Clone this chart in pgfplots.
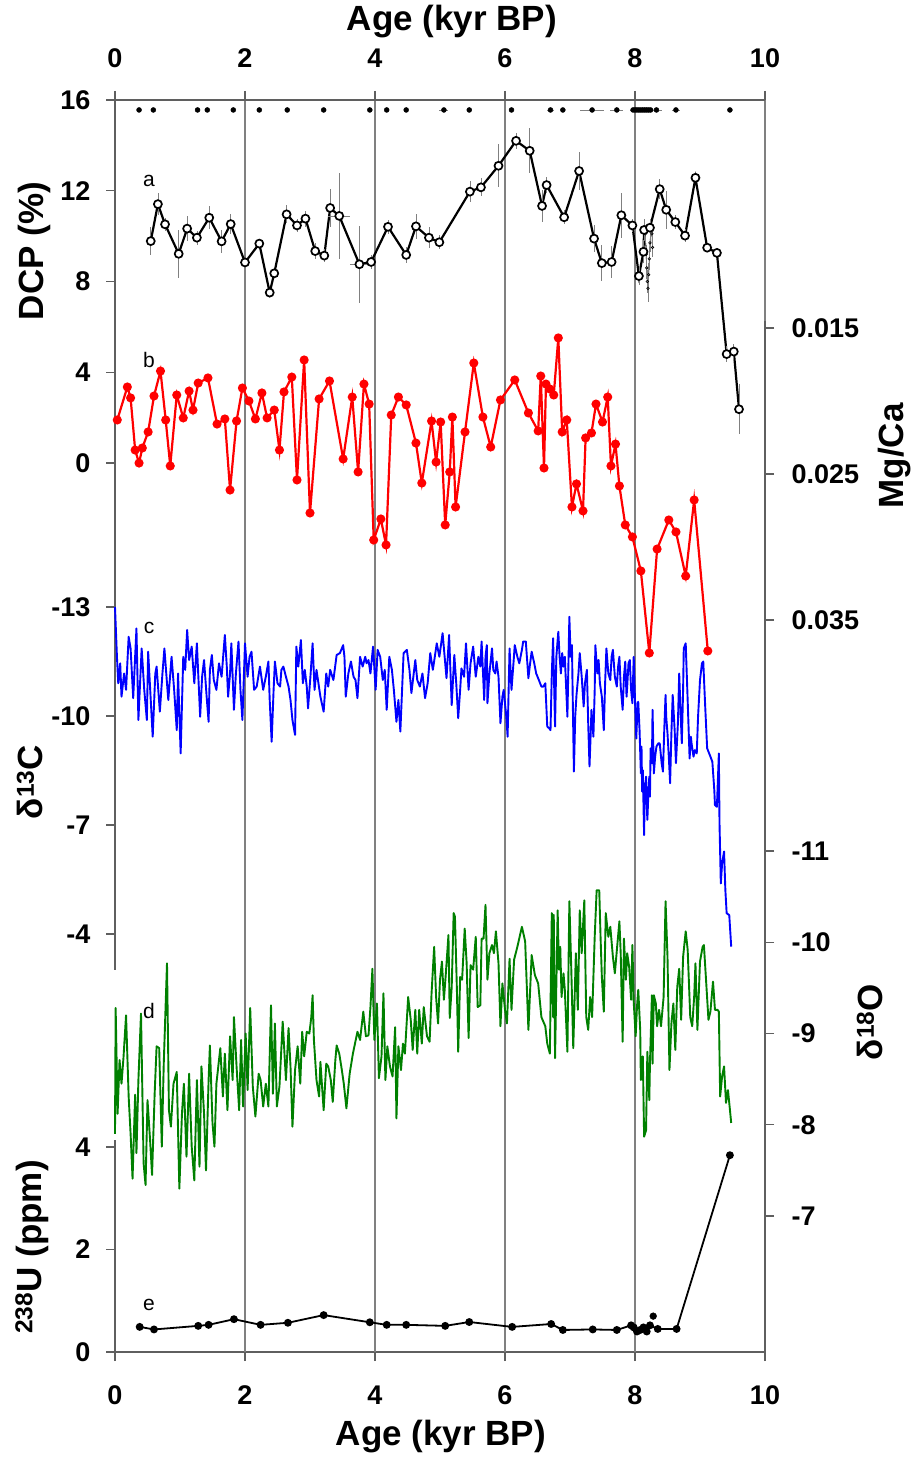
\documentclass[border=0pt]{standalone}
\usepackage{fontspec}
\setmainfont{Liberation Sans}
\usepackage{pgfplots}
\usepackage{pgfplotstable}
\pgfplotsset{compat=1.18}
\definecolor{axgray}{RGB}{95,95,95}
\definecolor{grd}{RGB}{128,128,128}
\definecolor{dgreen}{RGB}{0,128,0}

\pgfplotstableread{
x y ey ex
0.55 9.78 0.6 0
0.66 11.41 0.5 0
0.77 10.52 0.3 0
0.98 9.22 1.05 0
1.11 10.33 0.55 0
1.26 9.93 0.3 0
1.45 10.81 0.5 0
1.64 9.77 0.5 0
1.78 10.53 0.45 0
2.00 8.84 0.2 0
2.22 9.67 0.2 0
2.38 7.51 0.2 0
2.45 8.36 0.2 0
2.64 10.96 0.4 0
2.80 10.47 0.3 0
2.93 10.77 0.35 0
3.08 9.34 0.35 0
3.22 9.14 0.3 0
3.31 11.24 0.85 0
3.45 10.89 1.9 0.17
3.76 8.76 1.7 0.15
3.94 8.86 0.3 0
4.20 10.41 0.3 0
4.48 9.17 0.35 0
4.63 10.43 0.55 0
4.83 9.93 0.45 0
4.99 9.73 0.3 0
5.46 11.96 0.45 0
5.63 12.15 0.4 0
5.90 13.10 0.95 0
6.17 14.20 0.35 0
6.38 13.76 1.0 0
6.57 11.33 0.7 0
6.64 12.25 0.35 0
6.91 10.83 0.3 0
7.14 12.87 0.85 0
7.37 9.89 0.6 0
7.49 8.81 0.8 0
7.64 8.86 0.7 0
7.79 10.92 1.0 0
7.96 10.47 0.3 0
8.06 8.24 0.4 0
8.13 9.31 0.5 0
8.14 10.27 0.5 0
8.23 10.37 0.4 0
8.38 12.07 0.45 0
8.48 11.16 0.85 0
8.62 10.62 0.3 0
8.77 10.02 0.3 0
8.93 12.57 0.2 0
9.11 9.49 0.2 0
9.26 9.26 0.2 0
9.41 4.80 0.35 0
9.52 4.91 0.35 0
9.60 2.37 1.1 0
}\dcp

\pgfplotstableread{
x y ey
8.16 10.1 0.4
8.17 9.2 0.4
8.18 8.6 0.5
8.19 8.0 0.5
8.20 7.7 0.6
8.21 8.3 0.5
8.22 9.0 0.5
8.23 9.7 0.4
8.25 10.4 0.4
8.26 10.1 0.4
8.27 9.5 0.4
}\dcpsmall

\pgfplotstableread{
x y ex
0.37 15.56 0.02
0.59 15.56 0.02
1.27 15.56 0.02
1.42 15.56 0.02
1.82 15.56 0.03
2.22 15.56 0.02
2.65 15.56 0.02
3.21 15.56 0.02
3.92 15.56 0.02
4.18 15.56 0.02
4.48 15.56 0.02
5.06 15.56 0.07
5.45 15.56 0.03
6.10 15.56 0.02
6.70 15.56 0.06
6.89 15.56 0.03
7.34 15.56 0.19
7.72 15.56 0.10
7.97 15.56 0.05
8.00 15.56 0.03
8.03 15.56 0.03
8.06 15.56 0.03
8.09 15.56 0.03
8.12 15.56 0.03
8.15 15.56 0.03
8.18 15.56 0.03
8.21 15.56 0.03
8.24 15.56 0.03
8.33 15.56 0.09
8.63 15.56 0.06
9.46 15.56 0.02
}\dates

\pgfplotstableread{
x y
0.035 0.02130
0.19 0.01904
0.24 0.01979
0.31 0.02336
0.37 0.02425
0.42 0.02322
0.51 0.02212
0.60 0.01966
0.70 0.01795
0.78 0.02130
0.85 0.02445
0.95 0.01959
1.05 0.02116
1.14 0.01932
1.20 0.02062
1.28 0.01877
1.43 0.01842
1.57 0.02158
1.69 0.02123
1.77 0.02610
1.87 0.02137
1.96 0.01911
2.06 0.02000
2.16 0.02123
2.26 0.01945
2.34 0.02116
2.45 0.02062
2.53 0.02336
2.60 0.01938
2.72 0.01836
2.80 0.02541
2.91 0.01719
3.00 0.02767
3.14 0.01986
3.30 0.01863
3.51 0.02397
3.65 0.01973
3.74 0.02486
3.83 0.01884
3.91 0.02021
3.98 0.02952
4.09 0.02808
4.17 0.02986
4.25 0.02096
4.36 0.01973
4.48 0.02027
4.63 0.02288
4.72 0.02562
4.87 0.02137
4.94 0.02418
5.01 0.02144
5.08 0.02849
5.15 0.02486
5.19 0.02110
5.24 0.02726
5.385 0.02212
5.52 0.01740
5.66 0.02110
5.78 0.02315
5.93 0.01993
6.15 0.01856
6.36 0.02082
6.51 0.02205
6.55 0.01829
6.60 0.02459
6.63 0.01884
6.69 0.01918
6.75 0.01959
6.82 0.01568
6.88 0.02212
6.95 0.02130
7.03 0.02726
7.10 0.02568
7.20 0.02753
7.24 0.02253
7.33 0.02219
7.40 0.02021
7.50 0.02144
7.58 0.01973
7.63 0.02445
7.70 0.02295
7.76 0.02582
7.85 0.02849
7.96 0.02931
8.09 0.03164
8.22 0.03726
8.34 0.03014
8.52 0.02815
8.63 0.02897
8.78 0.03199
8.91 0.02678
9.12 0.03712
}\mgca

\pgfplotstableread{
x y
0.00 -13.00
0.03 -11.63
0.05 -10.90
0.08 -11.45
0.10 -10.53
0.14 -11.17
0.17 -10.72
0.21 -12.18
0.24 -11.86
0.28 -10.49
0.33 -12.41
0.36 -9.89
0.41 -11.86
0.45 -10.72
0.49 -9.89
0.51 -11.77
0.55 -10.44
0.58 -9.43
0.62 -11.17
0.64 -11.36
0.69 -10.12
0.73 -11.17
0.76 -11.86
0.80 -10.90
0.82 -10.44
0.87 -11.63
0.91 -10.72
0.95 -9.61
0.97 -11.17
1.01 -8.97
1.05 -11.63
1.08 -11.27
1.11 -12.37
1.14 -11.54
1.18 -11.91
1.22 -10.90
1.26 -12.00
1.28 -11.17
1.31 -9.98
1.34 -11.08
1.37 -11.54
1.41 -10.53
1.44 -9.84
1.46 -11.27
1.49 -11.68
1.52 -10.99
1.56 -10.72
1.60 -11.45
1.64 -11.08
1.69 -12.23
1.72 -11.36
1.74 -10.53
1.77 -11.17
1.79 -12.00
1.83 -10.17
1.86 -11.17
1.90 -12.05
1.93 -10.72
1.96 -9.89
2.00 -12.00
2.04 -11.08
2.07 -11.63
2.10 -11.77
2.14 -10.72
2.18 -10.81
2.23 -11.36
2.28 -10.72
2.32 -11.08
2.36 -11.50
2.38 -10.44
2.41 -9.29
2.44 -10.72
2.46 -11.50
2.50 -10.90
2.54 -10.81
2.56 -11.27
2.59 -11.36
2.63 -11.08
2.67 -10.81
2.70 -10.44
2.73 -9.89
2.77 -9.48
2.79 -11.91
2.82 -11.36
2.86 -12.09
2.89 -10.90
2.92 -11.27
2.95 -10.81
2.97 -10.21
3.01 -11.17
3.04 -12.00
3.07 -10.72
3.10 -11.27
3.13 -10.90
3.16 -10.53
3.21 -10.12
3.25 -11.17
3.28 -10.81
3.31 -11.27
3.36 -10.99
3.41 -11.68
3.46 -11.73
3.51 -11.95
3.53 -11.63
3.55 -10.53
3.59 -11.17
3.63 -11.50
3.67 -11.08
3.70 -10.99
3.73 -10.49
3.77 -11.63
3.81 -11.36
3.85 -11.63
3.87 -11.45
3.90 -11.54
3.93 -11.17
3.97 -11.91
4.01 -10.72
4.04 -11.82
4.08 -11.63
4.12 -10.99
4.15 -11.27
4.18 -10.17
4.22 -11.63
4.26 -11.27
4.29 -10.72
4.33 -9.84
4.36 -10.44
4.39 -9.57
4.44 -11.73
4.49 -11.82
4.53 -11.27
4.56 -10.63
4.59 -11.08
4.62 -11.54
4.65 -10.99
4.69 -10.81
4.73 -11.17
4.77 -10.49
4.81 -10.90
4.85 -11.73
4.89 -11.27
4.92 -11.63
4.95 -12.00
4.99 -11.63
5.04 -12.28
5.10 -11.04
5.14 -12.23
5.18 -10.30
5.22 -11.68
5.25 -10.90
5.28 -9.94
5.31 -10.72
5.33 -11.31
5.37 -11.08
5.40 -12.00
5.44 -10.72
5.47 -11.45
5.51 -11.91
5.55 -11.08
5.59 -11.63
5.62 -11.36
5.64 -12.05
5.68 -10.44
5.70 -11.63
5.72 -11.95
5.73 -10.35
5.76 -11.17
5.80 -11.86
5.82 -11.27
5.85 -11.17
5.87 -11.50
5.90 -11.08
5.93 -9.80
5.96 -10.53
5.98 -10.72
6.02 -9.98
6.04 -9.43
6.07 -11.86
6.09 -11.08
6.10 -10.72
6.13 -11.45
6.15 -11.95
6.19 -11.63
6.22 -11.45
6.26 -11.82
6.28 -12.05
6.32 -12.05
6.36 -11.04
6.38 -11.36
6.41 -11.77
6.45 -11.45
6.48 -11.17
6.51 -11.04
6.56 -10.81
6.59 -10.81
6.62 -10.90
6.65 -9.71
6.68 -9.66
6.70 -9.61
6.72 -11.17
6.74 -12.14
6.77 -9.71
6.79 -11.63
6.82 -12.32
6.84 -11.63
6.86 -11.17
6.88 -11.73
6.90 -11.36
6.92 -11.63
6.96 -9.98
6.99 -12.73
7.01 -11.63
7.03 -11.95
7.04 -10.72
7.06 -8.47
7.08 -9.98
7.10 -10.58
7.13 -11.17
7.15 -11.73
7.18 -11.08
7.21 -10.26
7.23 -10.90
7.26 -11.27
7.28 -9.80
7.30 -8.61
7.32 -9.61
7.33 -10.17
7.36 -9.43
7.38 -10.72
7.39 -11.95
7.42 -11.17
7.44 -11.54
7.46 -10.90
7.49 -10.53
7.52 -9.61
7.54 -10.90
7.56 -11.86
7.59 -11.17
7.62 -10.99
7.64 -11.63
7.66 -11.82
7.69 -11.08
7.72 -10.81
7.74 -11.36
7.76 -11.63
7.78 -10.81
7.81 -10.17
7.83 -11.08
7.85 -11.50
7.87 -10.53
7.88 -10.81
7.90 -11.45
7.92 -11.54
7.94 -10.72
7.96 -10.35
7.98 -11.63
8.00 -10.44
8.02 -9.38
8.04 -10.35
8.05 -10.39
8.07 -9.61
8.09 -8.42
8.10 -9.16
8.11 -7.92
8.12 -8.51
8.14 -6.72
8.15 -7.96
8.17 -8.33
8.18 -7.60
8.19 -7.14
8.21 -8.05
8.22 -8.33
8.23 -7.78
8.24 -9.11
8.26 -8.70
8.27 -10.17
8.29 -8.42
8.31 -8.88
8.33 -9.16
8.36 -9.25
8.38 -9.25
8.41 -8.70
8.43 -8.47
8.45 -9.61
8.47 -10.58
8.48 -9.98
8.50 -9.52
8.52 -8.88
8.54 -8.15
8.56 -9.52
8.58 -10.58
8.61 -9.61
8.63 -8.70
8.66 -9.80
8.68 -11.17
8.70 -10.17
8.72 -9.25
8.74 -10.72
8.75 -11.86
8.78 -12.00
8.81 -10.44
8.84 -8.83
8.86 -9.43
8.87 -9.25
8.90 -8.88
8.92 -9.06
8.95 -8.97
8.97 -9.98
9.00 -10.99
9.03 -11.45
9.05 -11.50
9.08 -10.26
9.11 -9.11
9.15 -8.93
9.19 -8.74
9.22 -7.96
9.23 -7.55
9.26 -7.50
9.29 -8.97
9.30 -7.05
9.32 -5.39
9.34 -5.94
9.37 -6.27
9.39 -5.21
9.41 -4.57
9.45 -4.52
9.48 -3.65
}\dthirteen

\pgfplotstableread{
x y
0.00 -7.90
0.01 -9.28
0.04 -8.12
0.07 -8.71
0.10 -8.45
0.13 -8.73
0.17 -9.20
0.21 -8.31
0.24 -7.90
0.27 -7.41
0.31 -8.33
0.33 -7.69
0.36 -8.49
0.40 -9.22
0.44 -7.58
0.47 -7.34
0.50 -8.27
0.54 -7.83
0.57 -7.45
0.61 -8.34
0.64 -8.86
0.68 -8.84
0.72 -7.76
0.75 -8.67
0.80 -9.77
0.83 -8.16
0.86 -7.98
0.90 -8.45
0.95 -8.58
0.99 -7.30
1.03 -8.12
1.06 -8.45
1.10 -7.65
1.14 -8.56
1.18 -7.76
1.22 -7.39
1.26 -8.49
1.30 -7.54
1.33 -8.64
1.37 -8.12
1.40 -7.50
1.44 -8.49
1.46 -8.87
1.50 -8.02
1.53 -7.76
1.56 -8.45
1.62 -8.84
1.66 -8.31
1.69 -8.78
1.73 -8.16
1.77 -8.97
1.81 -8.49
1.83 -9.18
1.87 -8.64
1.91 -8.16
1.94 -8.93
1.97 -8.20
2.01 -9.00
2.04 -8.38
2.08 -9.28
2.12 -8.42
2.16 -8.09
2.21 -8.56
2.24 -8.49
2.28 -8.20
2.32 -8.45
2.36 -8.20
2.40 -9.31
2.43 -8.34
2.46 -9.11
2.49 -8.20
2.53 -8.42
2.58 -9.13
2.63 -8.49
2.67 -9.06
2.70 -8.64
2.73 -7.98
2.77 -8.60
2.81 -8.86
2.85 -8.45
2.88 -9.02
2.91 -8.75
2.95 -9.02
2.99 -9.00
3.02 -9.18
3.04 -9.42
3.06 -8.93
3.10 -8.49
3.14 -8.31
3.16 -8.69
3.21 -8.16
3.25 -8.67
3.28 -8.64
3.32 -8.49
3.35 -8.25
3.39 -8.71
3.41 -8.87
3.45 -8.78
3.49 -8.60
3.52 -8.45
3.56 -8.18
3.61 -8.56
3.66 -8.78
3.73 -9.02
3.77 -8.93
3.82 -9.24
3.86 -8.97
3.90 -8.98
3.93 -9.29
3.96 -9.71
3.99 -8.93
4.03 -9.33
4.06 -8.51
4.10 -8.75
4.13 -9.44
4.16 -8.49
4.19 -8.86
4.23 -8.64
4.27 -8.53
4.31 -9.07
4.33 -8.07
4.36 -8.86
4.40 -8.60
4.43 -8.89
4.46 -8.78
4.51 -9.40
4.55 -9.15
4.58 -8.82
4.62 -9.26
4.65 -8.78
4.68 -9.26
4.72 -8.89
4.75 -9.29
4.80 -8.97
4.84 -8.91
4.87 -9.44
4.91 -9.95
4.94 -9.40
4.97 -9.11
5.00 -9.59
5.03 -9.79
5.06 -9.37
5.09 -9.66
5.13 -10.08
5.15 -9.17
5.18 -9.51
5.21 -10.32
5.23 -10.28
5.26 -9.48
5.28 -8.80
5.31 -9.62
5.34 -9.59
5.38 -10.15
5.41 -9.77
5.44 -8.95
5.47 -9.75
5.51 -9.70
5.55 -10.06
5.58 -9.29
5.62 -9.31
5.64 -10.04
5.67 -10.04
5.70 -10.41
5.73 -9.59
5.76 -9.88
5.80 -9.97
5.83 -9.88
5.86 -10.12
5.90 -9.77
5.93 -9.08
5.96 -9.55
6.00 -9.26
6.03 -9.11
6.07 -9.82
6.10 -9.26
6.14 -9.81
6.19 -9.95
6.26 -10.17
6.31 -10.01
6.36 -9.04
6.41 -9.86
6.46 -9.64
6.51 -9.55
6.56 -9.18
6.62 -9.08
6.65 -8.89
6.69 -8.78
6.72 -10.32
6.74 -9.18
6.75 -10.30
6.77 -8.73
6.81 -10.35
6.83 -9.70
6.85 -9.95
6.87 -9.40
6.90 -9.66
6.92 -9.48
6.96 -8.80
6.99 -10.45
7.02 -9.70
7.05 -8.84
7.09 -9.88
7.12 -9.26
7.15 -10.35
7.18 -9.88
7.22 -10.46
7.25 -9.18
7.28 -9.04
7.31 -9.40
7.34 -9.18
7.38 -10.06
7.41 -10.57
7.45 -10.57
7.47 -10.06
7.49 -9.62
7.52 -9.24
7.55 -10.32
7.59 -10.06
7.62 -10.17
7.66 -9.84
7.69 -9.66
7.73 -9.99
7.76 -10.23
7.78 -9.88
7.81 -8.91
7.83 -10.04
7.86 -9.59
7.88 -9.88
7.91 -9.73
7.94 -9.37
7.96 -9.97
7.98 -9.35
8.01 -8.97
8.03 -9.29
8.05 -9.48
8.08 -9.04
8.09 -8.49
8.12 -8.75
8.14 -7.87
8.17 -7.94
8.19 -8.80
8.22 -8.27
8.23 -8.67
8.26 -9.42
8.27 -8.67
8.29 -9.42
8.32 -9.33
8.34 -9.08
8.37 -9.26
8.40 -9.08
8.44 -9.40
8.47 -10.45
8.50 -9.84
8.53 -8.60
8.56 -9.11
8.59 -9.33
8.62 -8.82
8.65 -9.51
8.68 -9.71
8.71 -9.15
8.74 -9.84
8.78 -10.12
8.81 -9.92
8.85 -9.18
8.88 -9.08
8.91 -9.40
8.93 -9.77
8.96 -9.04
9.00 -9.79
9.04 -9.95
9.06 -9.97
9.09 -9.62
9.13 -9.15
9.16 -9.24
9.20 -9.57
9.23 -9.26
9.27 -9.26
9.29 -9.24
9.31 -8.31
9.34 -8.53
9.37 -8.64
9.40 -8.24
9.43 -8.38
9.45 -8.24
9.48 -8.02
}\deighteen

\pgfplotstableread{
x y
0.38 0.49
0.60 0.44
1.28 0.51
1.44 0.53
1.83 0.64
2.24 0.53
2.66 0.57
3.21 0.72
3.92 0.58
4.18 0.53
4.48 0.53
5.08 0.51
5.45 0.585
6.11 0.49
6.71 0.546
6.89 0.43
7.35 0.44
7.72 0.43
7.94 0.52
7.98 0.48
8.03 0.40
8.08 0.43
8.13 0.48
8.18 0.40
8.23 0.52
8.35 0.45
8.64 0.45
9.46 3.84
}\uranium

\pgfplotstableread{
x y
8.28 0.70
}\uextra

\pgfplotsset{
  common/.style={
    scale only axis, width=650pt, xmin=0, xmax=10, clip=false,
    axis x line=none, tick align=outside, major tick length=9pt,
    tick style={axgray, line width=1.2pt},
    axis line style={axgray, line width=1.2pt},
    tick label style={font=\fontsize{27}{27}\selectfont\bfseries},
    /pgf/number format/assume math mode=true,
    scaled y ticks=false, minor tick num=0,
  },
  leftax/.style={common, axis y line*=left, yticklabel style={xshift=-12pt}},
  rightax/.style={common, axis y line*=right, yticklabel style={xshift=14pt}},
}

\begin{document}
\begin{tikzpicture}
\useasboundingbox (-115pt,-106pt) rectangle (802pt,1352pt);

% base axis: bottom x axis, grid and right border
\begin{axis}[scale only axis, width=650pt, height=1252pt, at={(0pt,0pt)},
  xmin=0, xmax=10, ymin=0, ymax=1252, clip=false,
  axis y line=none, axis x line*=bottom,
  xtick={0,2,4,6,8,10}, tick align=outside, major tick length=9pt,
  tick style={axgray, line width=1.2pt},
  axis line style={axgray, line width=1.2pt},
  tick label style={font=\fontsize{27}{27}\selectfont\bfseries},
  xticklabel style={yshift=-21pt},
  /pgf/number format/assume math mode=true]
\draw[grd, line width=1.7pt] (axis cs:2,0) -- (axis cs:2,1252);
\draw[grd, line width=1.7pt] (axis cs:4,0) -- (axis cs:4,1252);
\draw[grd, line width=1.7pt] (axis cs:6,0) -- (axis cs:6,1252);
\draw[grd, line width=1.7pt] (axis cs:8,0) -- (axis cs:8,1252);
\draw[grd, line width=1.3pt] (axis cs:10,0) -- (axis cs:10,1252);
\end{axis}

% top x axis
\begin{axis}[scale only axis, width=650pt, height=1252pt, at={(0pt,0pt)},
  xmin=0, xmax=10, ymin=0, ymax=1252,
  axis y line=none, axis x line*=top,
  xtick={0,2,4,6,8,10}, tick align=outside, major tick length=9pt,
  tick style={axgray, line width=1.2pt},
  axis line style={axgray, line width=1.2pt},
  tick label style={font=\fontsize{27}{27}\selectfont\bfseries},
  xticklabel style={yshift=20pt},
  /pgf/number format/assume math mode=true]
\end{axis}

% DCP (a)
\begin{axis}[leftax, at={(0pt,889pt)}, height=363pt, ymin=0, ymax=16,
  ytick={0,4,8,12,16}]
\addplot[black, line width=0.6pt, mark=o, mark size=1.3pt,
  error bars/.cd, y dir=both, y explicit,
  error bar style={grd, line width=0.6pt}, error mark=none]
  table[x=x, y=y, y error=ey]{\dcpsmall};
\addplot[black, line width=2.2pt, mark=*, mark size=4pt,
  mark options={fill=white, draw=black, line width=1.7pt},
  error bars/.cd, y dir=both, y explicit, x dir=both, x explicit,
  error bar style={grd, line width=0.8pt}, error mark=none]
  table[x=x, y=y, y error=ey, x error=ex]{\dcp};
\addplot[only marks, black, mark=*, mark size=2.5pt,
  error bars/.cd, x dir=both, x explicit,
  error bar style={grd, line width=0.8pt}, error mark=none]
  table[x=x, y=y, x error=ex]{\dates};
\end{axis}

% d13C (c)
\begin{axis}[leftax, at={(0pt,382pt)}, height=507pt, ymin=-16.964, ymax=-3.008,
  y dir=reverse, ytick={-13,-10,-7,-4}]
\addplot[blue, line width=1.9pt, line join=round] table[x=x, y=y]{\dthirteen};
\end{axis}

% Mg/Ca (b)
\begin{axis}[rightax, at={(0pt,659pt)}, height=372.3pt, ymin=0.0145, ymax=0.0400,
  y dir=reverse, ytick={0.015,0.025,0.035}, yticklabels={0.015,0.025,0.035}]
\addplot[red, line width=2.2pt, mark=*, mark size=3.4pt,
  mark options={fill=red, draw=red}] table[x=x, y=y]{\mgca};
\end{axis}

% d18O (d)
\begin{axis}[rightax, at={(0pt,0pt)}, height=659pt, ymin=-12.732, ymax=-5.510,
  y dir=reverse, ytick={-11,-10,-9,-8,-7}]
\addplot[dgreen, line width=1.9pt, line join=round] table[x=x, y=y]{\deighteen};
\end{axis}

% 238U (e)
\begin{axis}[leftax, at={(0pt,0pt)}, height=212pt, ymin=0, ymax=4.137,
  ytick={0,2,4}]
\addplot[black, line width=1.8pt, mark=*, mark size=3pt] table[x=x, y=y]{\uranium};
\addplot[only marks, black, mark=*, mark size=3.4pt] table[x=x, y=y]{\uextra};
\end{axis}

% labels
\begin{scope}[every node/.style={font=\fontsize{35}{35}\selectfont\bfseries, inner sep=0pt}]
\node at (337pt,1330pt) {Age (kyr BP)};
\node at (326pt,-85pt) {Age (kyr BP)};
\node[rotate=90] at (-81pt,1101pt) {DCP (\%)};
\node[rotate=90] at (-85pt,570pt) {δ\textsuperscript{13}C};
\node[rotate=90] at (-83pt,105pt) {\textsuperscript{238}U (ppm)};
\node[rotate=90] at (780pt,896pt) {Mg/Ca};
\node[rotate=90] at (755pt,330pt) {δ\textsuperscript{18}O};
\end{scope}
\begin{scope}[every node/.style={font=\fontsize{21}{21}\selectfont, inner sep=0pt}]
\node at (34pt,1171pt) {a};
\node at (34pt,992pt) {b};
\node at (34pt,724pt) {c};
\node at (34pt,341pt) {d};
\node at (34pt,47pt) {e};
\end{scope}
\end{tikzpicture}
\end{document}
